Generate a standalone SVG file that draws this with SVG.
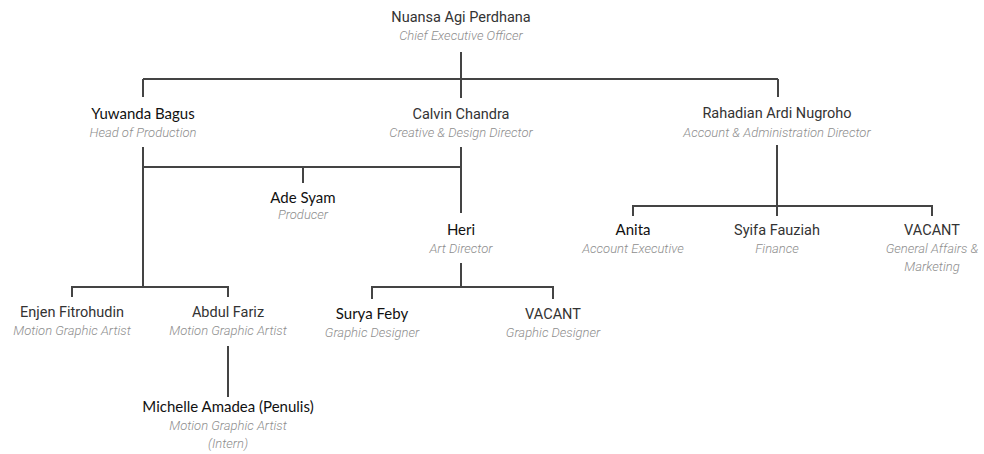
<svg xmlns="http://www.w3.org/2000/svg" width="984" height="454" viewBox="0 0 984 454">
<style>
.n{font-family:"Roboto","Liberation Sans",sans-serif;font-size:14.5px;fill:#333;text-anchor:middle}
.r{font-family:"Lato","Open Sans",sans-serif;font-size:15px;fill:#111;text-anchor:middle}
.t{font-family:"Roboto","Liberation Sans",sans-serif;font-size:13px;font-style:italic;font-weight:300;fill:#8e8e8e;text-anchor:middle}
.c{fill:none;stroke:#444;stroke-width:2}
</style>
<rect width="984" height="454" fill="#fff"/>
<g id="connectors" class="c">
<path d="M461 52V98M143 79H778M143 79V97M778 79V97"/>
<path d="M143 147V287M143 167H461M461 147V213M303 167V183"/>
<path d="M72 297V287H228V297M228 346V397"/>
<path d="M461 263V287M372 299V287H553V299"/>
<path d="M777 145V206M633 216V206H932V216M777 206V216"/>
</g>
<g id="ceo"><text class="n" x="461" y="22">Nuansa Agi Perdhana</text><text class="t" x="461" y="40">Chief Executive Officer</text></g>
<g id="yuwanda"><text class="r" x="143" y="119">Yuwanda Bagus</text><text class="t" x="143" y="137">Head of Production</text></g>
<g id="calvin"><text class="n" x="461" y="119">Calvin Chandra</text><text class="t" x="461" y="137">Creative &amp; Design Director</text></g>
<g id="rahadian"><text class="n" x="777" y="118">Rahadian Ardi Nugroho</text><text class="t" x="777" y="137">Account &amp; Administration Director</text></g>
<g id="ade"><text class="r" x="303" y="203">Ade Syam</text><text class="t" x="303" y="219">Producer</text></g>
<g id="heri"><text class="r" x="461" y="235">Heri</text><text class="t" x="461" y="253">Art Director</text></g>
<g id="anita"><text class="r" x="633" y="235">Anita</text><text class="t" x="633" y="253">Account Executive</text></g>
<g id="syifa"><text class="n" x="777" y="235">Syifa Fauziah</text><text class="t" x="777" y="253">Finance</text></g>
<g id="vacant-ga"><text class="n" x="932" y="235">VACANT</text><text class="t" x="932" y="253">General Affairs &amp;</text><text class="t" x="932" y="271">Marketing</text></g>
<g id="enjen"><text class="n" x="72" y="317">Enjen Fitrohudin</text><text class="t" x="72" y="335">Motion Graphic Artist</text></g>
<g id="abdul"><text class="n" x="228" y="317">Abdul Fariz</text><text class="t" x="228" y="335">Motion Graphic Artist</text></g>
<g id="surya"><text class="r" x="372" y="319">Surya Feby</text><text class="t" x="372" y="337">Graphic Designer</text></g>
<g id="vacant-gd"><text class="n" x="553" y="319">VACANT</text><text class="t" x="553" y="337">Graphic Designer</text></g>
<g id="michelle"><text class="r" x="228" y="412">Michelle Amadea (Penulis)</text><text class="t" x="228" y="430">Motion Graphic Artist</text><text class="t" x="228" y="448">(Intern)</text></g>
</svg>
